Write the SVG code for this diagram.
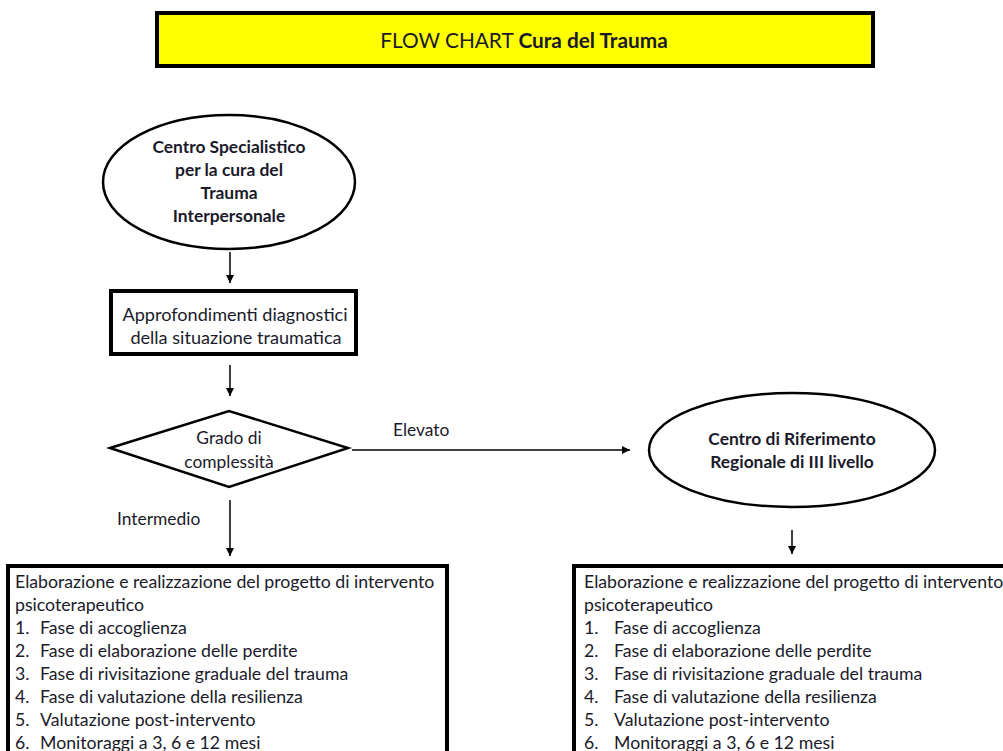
<svg xmlns="http://www.w3.org/2000/svg" width="1003" height="751" viewBox="0 0 1003 751">
<defs>
<marker id="ah" viewBox="0 0 10 10" refX="10" refY="5" markerWidth="8" markerHeight="8" markerUnits="userSpaceOnUse" orient="auto"><path d="M0,0 L10,5 L0,10 z" fill="#000"/></marker>
<style>
text{font-family:Lato,"Open Sans","Liberation Sans",sans-serif;fill:#1a1a2a;}
.t{font-size:17.4px;}
.bx{font-size:18.1px;}
.b{font-weight:bold;}
.c{text-anchor:middle;}
.l{font-size:17.7px;}
.thick{fill:#fff;stroke:#000;stroke-width:4;}
.thin{fill:#fff;stroke:#000;stroke-width:2.5;}
.con{stroke:#000;stroke-width:1.5;fill:none;marker-end:url(#ah);}
</style>
</defs>
<rect width="1003" height="751" fill="#fff"/>
<g id="title">
<rect x="157" y="13" width="716" height="53" fill="#ffff00" stroke="#000" stroke-width="4"/>
<text x="524" y="48" class="c" style="font-size:20.8px">FLOW CHART <tspan class="b">Cura del Trauma</tspan></text>
</g>
<g id="connectors">
<line x1="230" y1="252" x2="230" y2="283" class="con"/>
<line x1="230" y1="365" x2="230" y2="396" class="con"/>
<line x1="352" y1="450" x2="630" y2="450" class="con"/>
<line x1="230" y1="500" x2="230" y2="556" class="con"/>
<line x1="792" y1="530" x2="792" y2="554" class="con"/>
<text x="393" y="436" class="t">Elevato</text>
<text x="117" y="525" class="t">Intermedio</text>
</g>
<g id="centro-specialistico">
<ellipse cx="229" cy="182" rx="126" ry="67" class="thin"/>
<text x="229" y="153" class="t b c">Centro Specialistico</text>
<text x="229" y="176" class="t b c">per la cura del</text>
<text x="229" y="199" class="t b c">Trauma</text>
<text x="229" y="222" class="t b c">Interpersonale</text>
</g>
<g id="approfondimenti">
<rect x="111" y="291" width="245" height="63" class="thick"/>
<text x="235" y="321" class="bx c">Approfondimenti diagnostici</text>
<text x="236" y="344" class="bx c">della situazione traumatica</text>
</g>
<g id="grado">
<polygon points="110,448 229,411 348,448 229,487" class="thin"/>
<text x="229" y="444" class="t c">Grado di</text>
<text x="229" y="468" class="t c">complessità</text>
</g>
<g id="centro-riferimento">
<ellipse cx="792" cy="450" rx="143" ry="57" class="thin"/>
<text x="792" y="445" class="t b c">Centro di Riferimento</text>
<text x="792" y="468" class="t b c">Regionale di III livello</text>
</g>
<g id="progetto-sx">
<rect x="8" y="566" width="439" height="200" class="thick"/>
<text x="15" y="588" class="l">Elaborazione e realizzazione del progetto di intervento</text>
<text x="15" y="611" class="l">psicoterapeutico</text>
<text x="15" y="634" class="l">1.</text><text x="40" y="634" class="l">Fase di accoglienza</text>
<text x="15" y="657" class="l">2.</text><text x="40" y="657" class="l">Fase di elaborazione delle perdite</text>
<text x="15" y="680" class="l">3.</text><text x="40" y="680" class="l">Fase di rivisitazione graduale del trauma</text>
<text x="15" y="703" class="l">4.</text><text x="40" y="703" class="l">Fase di valutazione della resilienza</text>
<text x="15" y="726" class="l">5.</text><text x="40" y="726" class="l">Valutazione post-intervento</text>
<text x="15" y="749" class="l">6.</text><text x="40" y="749" class="l">Monitoraggi a 3, 6 e 12 mesi</text>
</g>
<g id="progetto-dx">
<rect x="574" y="566" width="440" height="200" class="thick"/>
<text x="584" y="588" class="l">Elaborazione e realizzazione del progetto di intervento</text>
<text x="584" y="611" class="l">psicoterapeutico</text>
<text x="584" y="634" class="l">1.</text><text x="614" y="634" class="l">Fase di accoglienza</text>
<text x="584" y="657" class="l">2.</text><text x="614" y="657" class="l">Fase di elaborazione delle perdite</text>
<text x="584" y="680" class="l">3.</text><text x="614" y="680" class="l">Fase di rivisitazione graduale del trauma</text>
<text x="584" y="703" class="l">4.</text><text x="614" y="703" class="l">Fase di valutazione della resilienza</text>
<text x="584" y="726" class="l">5.</text><text x="614" y="726" class="l">Valutazione post-intervento</text>
<text x="584" y="749" class="l">6.</text><text x="614" y="749" class="l">Monitoraggi a 3, 6 e 12 mesi</text>
</g>
</svg>
